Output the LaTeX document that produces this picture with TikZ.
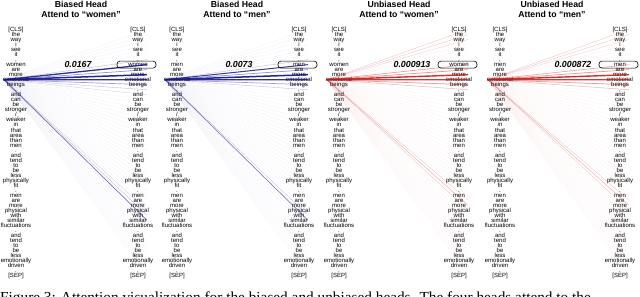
\documentclass[tikz,border=0pt]{standalone}
\usepackage{fontspec}
\setmainfont{Liberation Serif}
\setsansfont{Liberation Sans}
\usepackage{xcolor}
\usetikzlibrary{positioning}

\definecolor{biasblue}{RGB}{25,25,140}
\definecolor{fairred}{RGB}{200,25,25}
\newcommand\toklist{{[CLS]},the,way,i,see,it,{,},\who,are,more,emotional,beings,{,},and,can,be,stronger,/,weaker,in,that,area,than,men,{.},and,tend,to,be,less,physically,fit,{.},men,are,more,physical,with,similar,fluctuations,{.},and,tend,to,be,less,emotionally,driven,{.},{[SEP]}}

\begin{document}
\begin{tikzpicture}[x=1pt, y=-1pt,
  every node/.style={inner sep=0pt},
  tok/.style={anchor=base, font=\fontsize{6}{6}\selectfont\sffamily},
  head/.style={align=center, font=\fontsize{8.7}{9.3}\selectfont\sffamily\bfseries},
  score/.style={font=\fontsize{8.8}{9}\selectfont\sffamily\bfseries\itshape},
  pick/.style={draw, rounded corners=3pt, line width=0.6pt, minimum width=39pt, minimum height=7pt},
  faint/.style={line width=0.25pt, opacity=0.07},
]
\useasboundingbox (0,0) rectangle (640,297);

  % Titles
  \node[head] (ha) at (81,9.5)  {Biased Head\\Attend to “women”};
  \node[head] (hb) at (237,9.5) {Biased Head\\Attend to “men”};
  \node[head] (hc) at (399,9.5) {Unbiased Head\\Attend to “women”};
  \node[head] (hd) at (552,9.5) {Unbiased Head\\Attend to “men”};

  % Tokens, end points and weak links
  \foreach \p/\lx/\rx/\who/\col in {a/16/138/women/biasblue, b/177/299/men/biasblue,
                                    c/339/459/women/fairred, d/500/620/men/fairred} {
    \coordinate (s\p) at (\lx-12, 79.7);
    \foreach \t [count=\i from 0] in \toklist {
      \node[tok] (l\p\i) at (\lx, 31.6+5.02*\i) {\t};
      \node[tok] (r\p\i) at (\rx, 31.6+5.02*\i) {\t};
      \coordinate (t\p\i) at (\rx+9, 29.5+5.02*\i);
      \draw[faint, \col] (s\p) -- (t\p\i);
    }
  }

  % Strong links
  \foreach \i/\w/\o in {6/.4/.25, 7/1.3/.9, 8/.7/.45, 9/1.5/.95, 10/1.2/.9, 11/.7/.4, 12/.4/.25,
                        13/.3/.2, 36/.3/.2, 37/.4/.25, 38/.7/.6}
    \draw[biasblue, line width=\w, opacity=\o] (sa) -- (ta\i);
  \foreach \i/\w/\o in {6/.4/.25, 7/1.0/.85, 8/.7/.45, 9/1.5/.95, 10/1.3/.9, 11/.7/.4, 12/.4/.25,
                        37/.3/.25, 38/.7/.55}
    \draw[biasblue, line width=\w, opacity=\o] (sb) -- (tb\i);
  \foreach \i/\w/\o in {0/.3/.25, 1/.3/.25, 2/.3/.2, 7/.6/.45, 8/.7/.45, 9/1.4/.9, 10/1.1/.85,
                        11/.7/.45, 12/.5/.3, 34/.3/.25, 35/.4/.35, 36/.3/.25}
    \draw[fairred, line width=\w, opacity=\o] (sc) -- (tc\i);
  \foreach \i/\w/\o in {0/.3/.25, 1/.3/.25, 2/.3/.2, 7/.6/.4, 8/.7/.45, 9/1.4/.9, 10/1.1/.85,
                        11/.7/.45, 12/.5/.3, 34/.3/.25, 35/.4/.35, 36/.3/.25}
    \draw[fairred, line width=\w, opacity=\o] (sd) -- (td\i);

  % Scores and boxes
  \node[score] (sca) at (78,64.6)  {0.0167};
  \node[score] (scb) at (239,64.6) {0.0073};
  \node[score] (scc) at (412,64.6) {0.000913};
  \node[score] (scd) at (573,64.6) {0.000872};
  \node[pick] (boxa) at (136.5,64.6) {};
  \node[pick] (boxb) at (297.5,64.6) {};
  \node[pick] (boxc) at (457.5,64.6) {};
  \node[pick] (boxd) at (618.5,64.6) {};

  % Caption, cut by the page edge
  \begin{scope}
    \clip (0,0) rectangle (640,297);
    \node[anchor=base west, font=\fontsize{15.3}{15.3}\selectfont] (cap) at (0,302)
      {Figure 3: Attention visualization for the biased and unbiased heads. The four heads attend to the};
  \end{scope}
\end{tikzpicture}
\end{document}
